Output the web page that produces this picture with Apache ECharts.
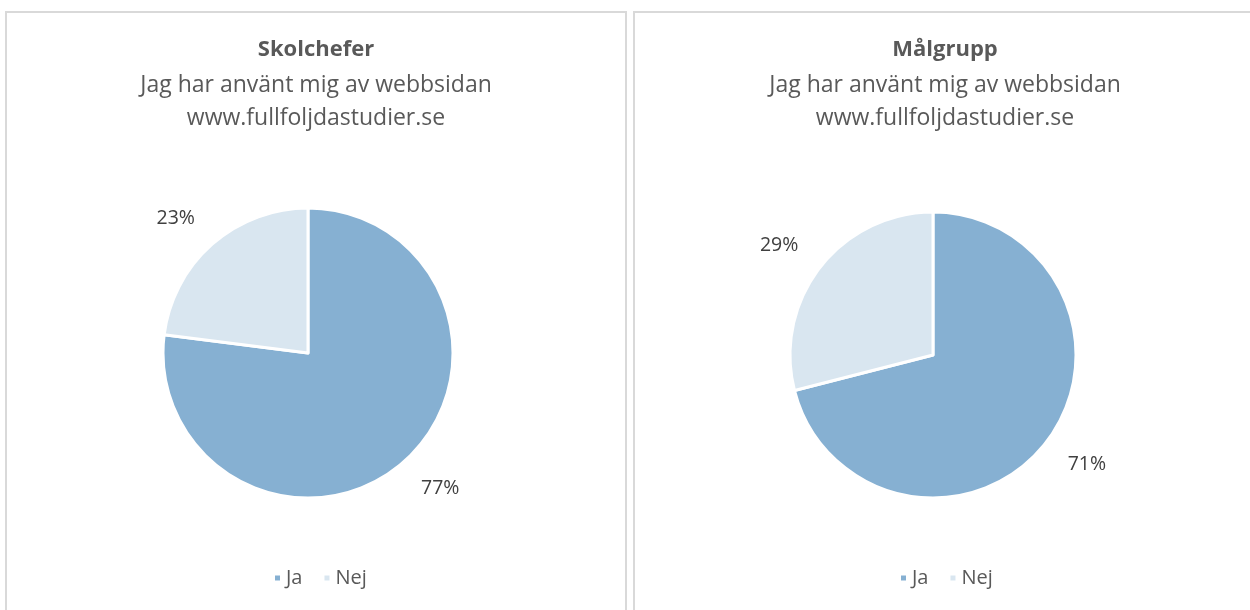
<!DOCTYPE html>
<html>
<head>
<meta charset="utf-8">
<script src="https://cdn.jsdelivr.net/npm/echarts@6/dist/echarts.min.js"></script>
<style>
  html, body { margin: 0; padding: 0; background: #fff; }
  #main { width: 1250px; height: 610px; }
</style>
</head>
<body>
<div id="main"></div>
<script>
// data
var categories = ['Ja', 'Nej'];
var skolchefer = [77, 23];
var malgrupp = [71, 29];
var titles = ['Skolchefer', 'Målgrupp'];
var subtitle = 'Jag har använt mig av webbsidan\nwww.fullfoljdastudier.se';

var colors = ['#86b0d2', '#d9e6f0'];
var fontFamily = '"Open Sans", "Liberation Sans", sans-serif';

function toPie(values) {
    return values.map(function (v, i) {
        return { name: categories[i], value: v };
    });
}

function pieSeries(values, center, radius) {
    return {
        type: 'pie',
        center: center,
        radius: radius,
        startAngle: 90,
        clockwise: true,
        avoidLabelOverlap: false,
        silent: true,
        itemStyle: { borderColor: '#fff', borderWidth: 3 },
        label: {
            show: true,
            position: 'outside',
            formatter: '{c}%',
            fontFamily: fontFamily,
            fontSize: 19.5,
            color: '#404040',
            distanceToLabelLine: -6
        },
        labelLine: { show: false, length: 35, length2: 0 },
        data: toPie(values)
    };
}

function titleBlock(text, x) {
    return {
        text: text,
        subtext: subtitle,
        left: x,
        top: 34,
        textAlign: 'center',
        itemGap: 8,
        textStyle: { fontFamily: fontFamily, fontSize: 22, fontWeight: 'bold', color: '#595959' },
        subtextStyle: { fontFamily: fontFamily, fontSize: 23, color: '#595959', lineHeight: 33 }
    };
}

function legendBlock(x) {
    return {
        data: categories,
        left: x,
        top: 563,
        icon: 'rect',
        itemWidth: 7,
        itemHeight: 7,
        itemGap: 20,
        selectedMode: false,
        textStyle: { fontFamily: fontFamily, fontSize: 20, color: '#595959' }
    };
}

var myChart = echarts.init(document.getElementById('main'));
var option = {
    color: colors,
    animation: false,
    title: [titleBlock(titles[0], 311), titleBlock(titles[1], 940)],
    legend: [legendBlock(268), legendBlock(894)],
    graphic: [
        { type: 'rect', shape: { x: 6, y: 12, width: 620, height: 640 }, style: { fill: 'none', stroke: '#d9d9d9', lineWidth: 2 } },
        { type: 'rect', shape: { x: 634, y: 12, width: 700, height: 640 }, style: { fill: 'none', stroke: '#d9d9d9', lineWidth: 2 } }
    ],
    series: [
        pieSeries(skolchefer, [308, 353], 145),
        pieSeries(malgrupp, [933, 355], 143)
    ]
};
myChart.setOption(option);
</script>
</body>
</html>
